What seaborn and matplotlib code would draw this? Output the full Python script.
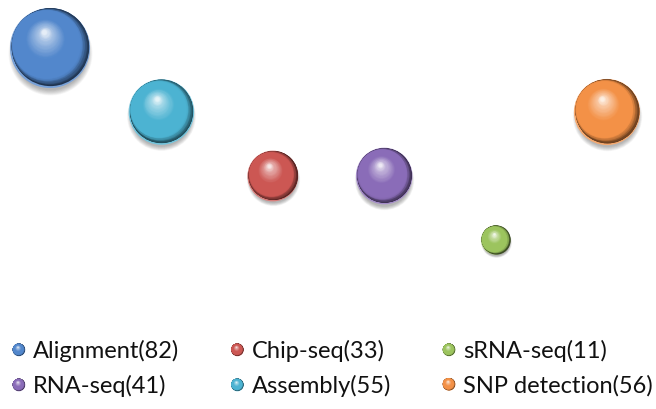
import numpy as np
import pandas as pd
import matplotlib
matplotlib.use("Agg")
import matplotlib.pyplot as plt
import matplotlib.transforms as mtransforms
from matplotlib.colors import to_rgb
from matplotlib.patches import Circle
from matplotlib.legend_handler import HandlerBase
import seaborn as sns

# Number of tools per analysis task
categories = ["Alignment", "Assembly", "Chip-seq", "RNA-seq", "sRNA-seq", "SNP detection"]
counts = [82, 55, 33, 41, 11, 56]
x_pos = [1, 2, 3, 4, 5, 6]
y_pos = [5, 4, 3, 3, 2, 4]
base_colors = ["#5287cc", "#4cb3d2", "#cc5753", "#8a6cb8", "#9cc45e", "#f39147"]
legend_order = ["Alignment", "RNA-seq", "Chip-seq", "Assembly", "sRNA-seq", "SNP detection"]

df = pd.DataFrame({"task": categories, "count": counts, "x": x_pos, "y": y_pos})

sns.set_theme(style="white")
plt.rcParams["font.family"] = ["Lato", "DejaVu Sans"]

fig = plt.figure(figsize=(6.56, 4.09), dpi=100)
ax = fig.add_axes([0, 0, 1, 1])
ax.set_xlim(0.551, 6.44)
ax.set_ylim(-0.64, 5.75)
ax.set_axis_off()

AREA_PER_UNIT = 40.5  # marker area (pt^2) per counted tool


def mix(c1, c2, t):
    a, b = np.array(to_rgb(c1)), np.array(to_rgb(c2))
    return tuple(np.clip(a + (b - a) * t, 0, 1))


def sphere_layers(base, n=60):
    """Yield (radius, dx, dy, colour) of the layers of a shaded unit sphere."""
    base_rgb = to_rgb(base)
    dark = mix(base, "black", 0.62)
    middark = mix(base, "black", 0.3)
    light = mix(base, "white", 0.5)
    hi = mix(base, "white", 0.85)
    r0, c0 = 0.965, np.array([0.0, 0.035])
    ux = np.array([-0.85, 0.53])
    a = 0.11
    # dark crescent on the shadowed lower-right side
    na = n // 3
    for k in range(na):
        t = k / na
        rk = r0 * (1 - a * t)
        c = c0 + ux * a * r0 * t
        col = tuple(np.interp(t, [0, 0.5, 1], [dark[i], middark[i], base_rgb[i]])
                    for i in range(3))
        yield rk, c[0], c[1], col
    # body of the sphere, brightening towards the upper-left highlight
    r1 = r0 * (1 - a)
    c1 = c0 + ux * a * r0
    h = np.array([-0.14, 0.40])
    nb = n - na
    for k in range(nb):
        t = k / (nb - 1)
        rk = r1 + (0.06 - r1) * t
        c = c1 + (h - c1) * t
        col = tuple(np.interp(t, [0, 0.45, 0.85, 1],
                              [base_rgb[i], base_rgb[i], light[i], hi[i]])
                    for i in range(3))
        yield rk, c[0], c[1], col


# outer rim, lighter to suggest the reflected light at the bottom
rim_palette = {c: mix(b, "white", 0.22) for c, b in zip(categories, base_colors)}
sns.scatterplot(data=df, x="x", y="y", hue="task", palette=rim_palette,
                size="count",
                sizes=(min(counts) * AREA_PER_UNIT, max(counts) * AREA_PER_UNIT),
                legend=False, linewidth=0, ax=ax, zorder=2)


def offset(dx, dy):
    return mtransforms.offset_copy(ax.transData, fig=fig, x=dx, y=dy, units="points")


for task, n, xv, yv, base in zip(categories, counts, x_pos, y_pos, base_colors):
    r = np.sqrt(n * AREA_PER_UNIT) / 2.0
    # soft drop shadow
    for k in range(10):
        rr = r * (1.05 - 0.015 * k)
        ax.scatter([xv], [yv], s=(2 * rr) ** 2, color="black", alpha=0.03,
                   linewidths=0, transform=offset(0, -0.13 * r), zorder=1)
    for k, (rk, dx, dy, col) in enumerate(sphere_layers(base)):
        ax.scatter([xv], [yv], s=(2 * rk * r) ** 2, color=col, linewidths=0,
                   transform=offset(dx * r, dy * r), zorder=3 + k * 0.001)


class SphereHandler(HandlerBase):
    """Legend key drawn as a small shaded sphere."""

    def __init__(self, base, radius):
        super().__init__()
        self.base = base
        self.radius = radius

    def create_artists(self, legend, orig_handle, xdescent, ydescent,
                       width, height, fontsize, trans):
        cx = 0.5 * width - xdescent
        cy = 0.5 * height - ydescent
        rr = self.radius
        arts = [Circle((cx, cy), rr, facecolor=mix(self.base, "white", 0.2),
                       edgecolor="none", transform=trans)]
        for rk, dx, dy, col in sphere_layers(self.base, n=30):
            arts.append(Circle((cx + dx * rr, cy + dy * rr), rk * rr,
                               facecolor=col, edgecolor="none", transform=trans))
        return arts


color_of = dict(zip(categories, base_colors))
count_of = dict(zip(categories, counts))
handles = [Circle((0, 0), 1, color=color_of[c]) for c in legend_order]
labels = [f"{c}({count_of[c]})" for c in legend_order]
leg = fig.legend(handles, labels, ncol=3, loc="lower left",
                 bbox_to_anchor=(0.0, 0.0), frameon=False, fontsize=17,
                 handlelength=0.6, handletextpad=0.3, columnspacing=2.16,
                 labelspacing=0.55, borderaxespad=0.1,
                 handler_map={h: SphereHandler(color_of[c], 4.6)
                              for h, c in zip(handles, legend_order)})
for t in leg.get_texts():
    t.set_color("#111111")

fig.savefig("out.png", dpi=100)
